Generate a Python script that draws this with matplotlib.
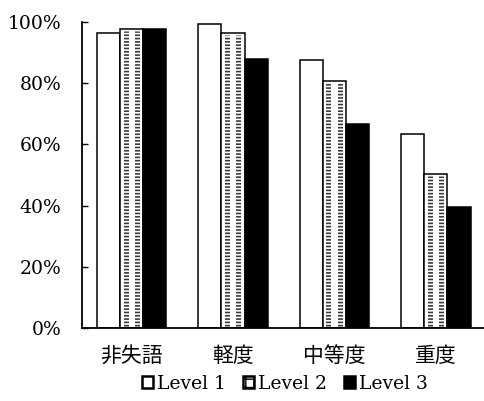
import matplotlib
matplotlib.use("Agg")
import matplotlib.pyplot as plt
from matplotlib.patches import Patch
from matplotlib.ticker import FuncFormatter
import numpy as np

categories = ["非失語", "軽度", "中等度", "重度"]
series_names = ["Level 1", "Level 2", "Level 3"]
level1 = [96.5, 99.5, 87.7, 63.5]
level2 = [97.7, 96.5, 80.6, 50.3]
level3 = [97.7, 87.8, 66.6, 39.4]
y_ticks = [0, 20, 40, 60, 80, 100]

fig = plt.figure(figsize=(4.85, 4.01), dpi=100)
ax = fig.add_axes([0.169, 0.182, 0.831, 0.763])

x = np.arange(len(categories))
w = 0.227
lw = 1.1

ax.bar(x - w, level1, w, facecolor="white", edgecolor="black", linewidth=lw, zorder=2)
ax.bar(x, level2, w, facecolor="white", edgecolor="black", linewidth=lw, zorder=2)
ax.bar(x + w, level3, w, facecolor="black", edgecolor="black", linewidth=lw, zorder=2)

# dotted texture inside the Level 2 bars: two columns of short dashes
col_offsets = [-0.26 * w, 0.22 * w]
for off in col_offsets:
    ax.vlines(x + off, 0.6, np.array(level2) - 0.6, colors="#3a3a3a",
              linewidth=3.6, linestyles=(0, (0.33, 0.33)), zorder=3)

ax.set_xlim(-0.488, 3.483)
ax.set_ylim(0, 100)
ax.set_yticks(y_ticks)
ax.yaxis.set_major_formatter(FuncFormatter(lambda v, p: f"{int(v)}%"))
ax.set_xticks(x)
ax.set_xticklabels(categories, fontfamily="Noto Sans CJK JP", fontsize=15)
for lab in ax.get_yticklabels():
    lab.set_fontfamily("DejaVu Serif")
    lab.set_fontsize(13.5)
ax.tick_params(axis="y", direction="in", length=4, width=1, pad=15)
ax.tick_params(axis="x", length=0, pad=12)
for s in ("top", "right"):
    ax.spines[s].set_visible(False)
for s in ("left", "bottom"):
    ax.spines[s].set_linewidth(1.3)

handles = [
    Patch(facecolor="white", edgecolor="black", linewidth=1.8),
    Patch(facecolor="white", edgecolor="black", linewidth=1.8, hatch="++"),
    Patch(facecolor="black", edgecolor="black", linewidth=1.8),
]
fig.legend(handles, series_names, loc="center", bbox_to_anchor=(0.587, 0.043),
           ncol=3, frameon=False, handlelength=0.6, handleheight=0.6,
           handletextpad=0.2, columnspacing=0.9,
           prop={"family": "DejaVu Serif", "size": 13.5})

fig.savefig("out.png", dpi=100)
